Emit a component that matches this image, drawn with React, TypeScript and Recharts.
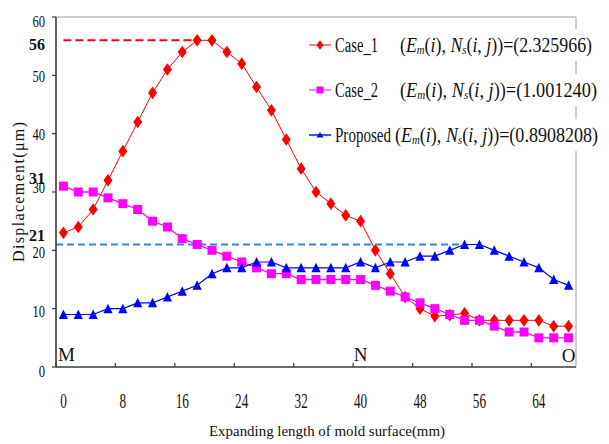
import React from "react";
import {
  LineChart,
  Line,
  XAxis,
  YAxis,
  ReferenceLine,
  ReferenceDot,
  Legend,
  Label,
} from "recharts";

// ---------- data ----------
const xValues = [0, 2, 4, 6, 8, 10, 12, 14, 16, 18, 20, 22, 24, 26, 28, 30, 32, 34, 36, 38, 40, 42, 44, 46, 48, 50, 52, 54, 56, 58, 60, 62, 64, 66, 68];
const case1 = [23, 24, 27, 32, 37, 42, 47, 51, 54, 56, 56, 54, 52, 48, 44, 39, 34, 30, 28, 26, 25, 20, 16, 12, 10, 8.7, 8.9, 9.2, 8, 8, 8, 8, 8, 7, 7];
const case2 = [31, 30, 30, 29, 28, 27, 25, 24, 22, 21, 20, 19, 18, 17, 16, 16, 15, 15, 15, 15, 15, 14, 13, 12, 11, 10, 9, 8, 8, 7, 6, 6, 5, 5, 5];
const proposed = [9, 9, 9, 10, 10, 11, 11, 12, 13, 14, 16, 17, 17, 18, 18, 17, 17, 17, 17, 17, 18, 17, 18, 18, 19, 19, 20, 21, 21, 20, 19, 18, 17, 15, 14];

const seriesNames = ["Case_1", "Case_2", "Proposed"];
const formulaValues = ["2.325966", "1.001240", "0.8908208"];

// category labels every 8 mm; tick marks sit on the category boundaries just before them
const xTickLabels = [0, 8, 16, 24, 32, 40, 48, 56, 64];
const xTickMarks = [-1, 7, 15, 23, 31, 39, 47, 55, 63];
const yTicks = [0, 10, 20, 30, 40, 50, 60];
const yHighlights = [21, 31, 56];

const peakCase1 = { from: 0, to: 18, value: 56 };
const peakProposed = { from: -1, to: 54, value: 21 };

const pointLabels = [
  { x: 0, y: 2.2, text: "M" },
  { x: 40, y: 2.2, text: "N" },
  { x: 68, y: 2.0, text: "O" },
];

const xTitle = "Expanding length of mold surface(mm)";
const yTitle = "Displacement(μm)";

const rows = xValues.map((x, i) => ({
  x,
  case1: case1[i],
  case2: case2[i],
  proposed: proposed[i],
}));

// ---------- style ----------
const FONT = '"Liberation Serif", "Times New Roman", serif';
const RED = "#FF0000";
const PINK = "#FF00FF";
const BLUE = "#0000FF";
const DASH_BLUE = "#2F7FFF";
const AXIS = "#3a3a3a";
const FRAME = "#9a9a9a";
const X_DOMAIN: [number, number] = [-1, 69];
const CHART_W = 609;
const CHART_H = 444;
const MARGIN = { top: 17, right: 33, bottom: 0, left: 0 };
const Y_AXIS_W = 56;
const PLOT_W = CHART_W - MARGIN.right - MARGIN.left - Y_AXIS_W;
const UNIT_PX = PLOT_W / (X_DOMAIN[1] - X_DOMAIN[0]);
const Y_NUDGE: Record<number, number> = { 0: 4, 10: 3, 20: 2, 21: -9, 30: -5, 31: -8, 40: 1, 50: 1, 56: 4, 60: 4 };

const Diamond = ({ cx, cy, fill, w = 4.5, h = 6.3 }: any) =>
  cx == null || cy == null ? null : (
    <path d={`M${cx},${cy - h}L${cx + w},${cy}L${cx},${cy + h}L${cx - w},${cy}Z`} fill={fill} />
  );
const Square = ({ cx, cy, fill, s = 4.5 }: any) =>
  cx == null || cy == null ? null : <rect x={cx - s} y={cy - s} width={2 * s} height={2 * s} fill={fill} />;
const Triangle = ({ cx, cy, fill, w = 4.6, h = 9 }: any) =>
  cx == null || cy == null ? null : (
    <path d={`M${cx},${cy - h / 2 - 0.5}L${cx + w},${cy + h / 2}L${cx - w},${cy + h / 2}Z`} fill={fill} />
  );

const markers = [
  (p: any) => <Diamond {...p} />,
  (p: any) => <Square {...p} />,
  (p: any) => <Triangle {...p} />,
];
const colors = [RED, PINK, BLUE];
const legendLineColors = ["#FF6060", "#FF60FF", "#2020FF"];

const XTick = (p: any) => {
  const label = xTickLabels[p.index];
  if (label == null) return null;
  const s = String(label);
  return (
    <text
      x={p.x + UNIT_PX}
      y={p.y}
      textAnchor="middle"
      dominantBaseline="central"
      fontFamily={FONT}
      fontSize={21}
      fill="#111"
      textLength={s.length * 6.6}
      lengthAdjust="spacingAndGlyphs"
    >
      {s}
    </text>
  );
};

const YTick = (p: any) => {
  const v = p.payload.value;
  const bold = yHighlights.includes(v);
  const s = String(v);
  return (
    <g>
      {!bold && <line x1={p.x + 7} x2={p.x + 11} y1={p.y} y2={p.y} stroke={AXIS} strokeWidth={1.2} />}
      <text
        x={p.x}
        y={p.y + (Y_NUDGE[v] ?? 0)}
        textAnchor="end"
        dominantBaseline="central"
        fontFamily={FONT}
        fontSize={bold ? 17 : 16}
        fontWeight={bold ? "bold" : "normal"}
        fill="#111"
        textLength={bold ? s.length * 8 : s.length * 6.3}
        lengthAdjust="spacingAndGlyphs"
      >
        {s}
      </text>
    </g>
  );
};

const XTitle = (props: any) => {
  const vb = props.viewBox || { x: 56, y: 367, width: 520, height: 77 };
  return (
    <text
      x={vb.x + vb.width / 2 + 11}
      y={vb.y + 64}
      textAnchor="middle"
      dominantBaseline="central"
      fontFamily={FONT}
      fontSize={15}
      fill="#111"
      textLength={236}
      lengthAdjust="spacingAndGlyphs"
    >
      {xTitle}
    </text>
  );
};

const YTitle = (props: any) => {
  const vb = props.viewBox || { x: 0, y: 17, width: 56, height: 350 };
  const cx = vb.x + 18;
  const cy = vb.y + vb.height / 2;
  return (
    <text
      x={cx}
      y={cy}
      transform={`rotate(-90 ${cx} ${cy})`}
      textAnchor="middle"
      dominantBaseline="central"
      fontFamily={FONT}
      fontSize={16}
      fill="#111"
      textLength={140}
      lengthAdjust="spacing"
    >
      {yTitle}
    </text>
  );
};

const legendTextLen = [43, 43, 56];
const formulaX = [100, 100, 95];
const formulaLen = [192, 197, 203];
const seriesKeys = ["case1", "case2", "proposed"];

const LegendContent = (props: any) => {
  const payload = props.payload || [];
  return (
    <svg width={309} height={130} style={{ display: "block", overflow: "visible" }}>
      {payload.map((e: any, k: number) => {
        let i = seriesKeys.indexOf(e.dataKey);
        if (i < 0) i = k;
        const cy = 17 + i * 45;
        const Marker = markers[i];
        return (
          <g key={i}>
            <line x1={9} x2={31} y1={cy} y2={cy} stroke={legendLineColors[i]} strokeWidth={1.6} />
            {Marker({ cx: 20, cy, fill: colors[i], w: 3.5, h: 4.8, s: 3.5 })}
            <text
              x={35}
              y={cy}
              dominantBaseline="central"
              fontFamily={FONT}
              fontSize={20}
              fill="#111"
              textLength={legendTextLen[i]}
              lengthAdjust="spacingAndGlyphs"
            >
              {seriesNames[i]}
            </text>
            <rect x={formulaX[i] - 1} y={cy - 16} width={213} height={32} fill="#fff" />
            <text
              x={formulaX[i]}
              y={cy}
              dominantBaseline="central"
              fontFamily={FONT}
              fontSize={20}
              fill="#111"
              textLength={formulaLen[i]}
              lengthAdjust="spacingAndGlyphs"
            >
              (<tspan fontStyle="italic">E</tspan>
              <tspan fontStyle="italic" fontSize={12} dy={5}>m</tspan>
              <tspan dy={-5}>(</tspan>
              <tspan fontStyle="italic">i</tspan>
              <tspan>), </tspan>
              <tspan fontStyle="italic">N</tspan>
              <tspan fontStyle="italic" fontSize={12} dy={5}>s</tspan>
              <tspan dy={-5}>(</tspan>
              <tspan fontStyle="italic">i</tspan>
              <tspan>, </tspan>
              <tspan fontStyle="italic">j</tspan>
              <tspan>{"))=(" + formulaValues[i] + ")"}</tspan>
            </text>
          </g>
        );
      })}
    </svg>
  );
};

export default function App() {
  return (
    <div style={{ position: "absolute", left: 0, top: 0, width: CHART_W, height: CHART_H, background: "#fff" }}>
      <LineChart width={CHART_W} height={CHART_H} data={rows} margin={MARGIN}>
        <XAxis
          dataKey="x"
          type="number"
          domain={X_DOMAIN}
          ticks={xTickMarks}
          interval={0}
          tickSize={-4}
          tickMargin={38}
          tickLine={{ stroke: AXIS, strokeWidth: 1.2 }}
          axisLine={{ stroke: AXIS, strokeWidth: 1.6 }}
          tick={XTick}
          height={77}
        >
          <Label content={XTitle} />
        </XAxis>
        <YAxis
          type="number"
          domain={[0, 60]}
          ticks={[...yTicks, ...yHighlights].sort((a, b) => a - b)}
          interval={0}
          width={Y_AXIS_W}
          tickSize={4}
          tickMargin={7}
          tickLine={false}
          axisLine={{ stroke: AXIS, strokeWidth: 1.6 }}
          tick={YTick}
        >
          <Label content={YTitle} />
        </YAxis>
        <ReferenceLine y={60} stroke={FRAME} strokeWidth={1} />
        <ReferenceLine x={X_DOMAIN[1]} stroke={FRAME} strokeWidth={1} />
        <ReferenceLine
          segment={[{ x: peakCase1.from, y: peakCase1.value }, { x: peakCase1.to, y: peakCase1.value }]}
          stroke={RED}
          strokeWidth={2}
          strokeDasharray="8 4"
        />
        <ReferenceLine
          segment={[{ x: peakProposed.from, y: peakProposed.value }, { x: peakProposed.to, y: peakProposed.value }]}
          stroke={DASH_BLUE}
          strokeWidth={2}
          strokeDasharray="7 4"
        />
        {pointLabels.map((pl) => (
          <ReferenceDot
            key={pl.text}
            x={pl.x}
            y={pl.y}
            r={1}
            fill="none"
            stroke="none"
            label={{ value: pl.text, position: "center", fill: "#111", fontSize: 19, fontFamily: FONT, dx: pl.text === "M" ? 3 : 0 }}
          />
        ))}
        <Legend
          layout="vertical"
          align="center"
          verticalAlign="middle"
          content={LegendContent}
          wrapperStyle={{ position: "absolute", left: 300, top: 28, width: 309, height: 130, margin: 0, padding: 0 }}
        />
        <Line
          dataKey="case1"
          name={seriesNames[0]}
          stroke={RED}
          strokeWidth={1}
          isAnimationActive={false}
          dot={(p: any) => <Diamond key={`d1-${p.index}`} cx={p.cx} cy={p.cy} fill={RED} />}
          activeDot={false}
        />
        <Line
          dataKey="case2"
          name={seriesNames[1]}
          stroke={PINK}
          strokeWidth={1.3}
          isAnimationActive={false}
          dot={(p: any) => <Square key={`d2-${p.index}`} cx={p.cx} cy={p.cy} fill={PINK} />}
          activeDot={false}
        />
        <Line
          dataKey="proposed"
          name={seriesNames[2]}
          stroke={BLUE}
          strokeWidth={1.2}
          isAnimationActive={false}
          dot={(p: any) => <Triangle key={`d3-${p.index}`} cx={p.cx} cy={p.cy} fill={BLUE} />}
          activeDot={false}
        />
      </LineChart>
    </div>
  );
}
